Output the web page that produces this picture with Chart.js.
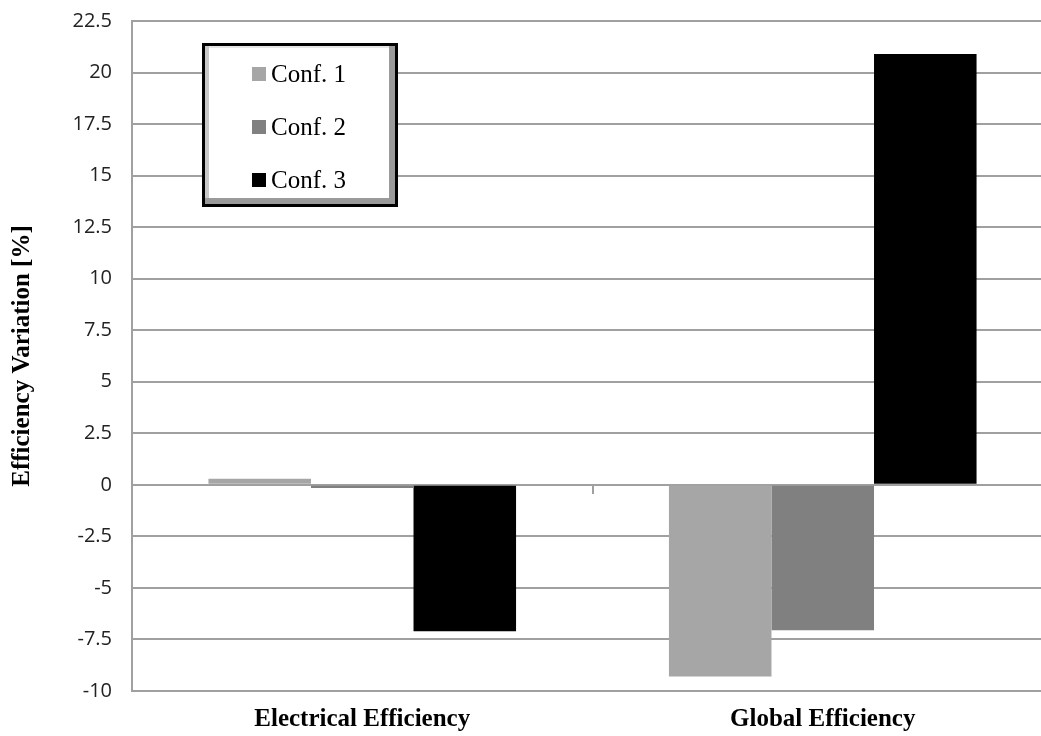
<!DOCTYPE html>
<html>
<head>
<meta charset="utf-8">
<script src="https://cdn.jsdelivr.net/npm/chart.js@4/dist/chart.umd.min.js"></script>
<style>
  html, body { margin: 0; padding: 0; background: #fff; overflow: hidden; }
  #wrap { width: 1060px; height: 748px; margin-top: -11px; }
</style>
</head>
<body>
<div id="wrap"><canvas id="chart" width="1060" height="748"></canvas></div>
<script>
// ---- data ----
const categories = ["Electrical Efficiency", "Global Efficiency"];
const seriesNames = ["Conf. 1", "Conf. 2", "Conf. 3"];
const conf1 = [0.3, -9.3];
const conf2 = [-0.15, -7.05];
const conf3 = [-7.1, 20.9];
const seriesColors = ["#a6a6a6", "#808080", "#000000"];

const yMin = -10, yMax = 22.5, yStep = 2.5;

const GRID = "#a0a0a0";
const SERIF = "'Liberation Serif', 'Times New Roman', serif";

// ---- legend drawn inside the plot (Excel style box) ----
const boxLegend = {
  id: "boxLegend",
  afterDraw(chart) {
    const { ctx, chartArea } = chart;
    const x = chartArea.left + 70, y = chartArea.top + 22;
    const w = 196, h = 164;
    ctx.save();
    ctx.fillStyle = "#fff";
    ctx.fillRect(x, y, w, h);
    // bevel
    ctx.fillStyle = "#c8c8c8";
    ctx.fillRect(x + 2, y + 2, 5, h - 4);
    ctx.fillStyle = "#9a9a9a";
    ctx.fillRect(x + w - 9, y + 2, 7, h - 4);
    ctx.fillRect(x + 2, y + h - 9, w - 4, 7);
    ctx.fillStyle = "#e6e6e6";
    ctx.fillRect(x + 7, y + 2, w - 16, 3);
    ctx.strokeStyle = "#000";
    ctx.lineWidth = 3;
    ctx.strokeRect(x + 1.5, y + 1.5, w - 3, h - 3);

    ctx.font = "25px " + SERIF;
    ctx.textBaseline = "middle";
    chart.data.datasets.forEach((ds, i) => {
      const ry = y + 31 + i * 53;
      ctx.fillStyle = ds.backgroundColor;
      ctx.fillRect(x + 50, ry - 7, 14, 14);
      ctx.fillStyle = "#000";
      ctx.fillText(ds.label, x + 69, ry + 1);
    });
    ctx.restore();
  }
};

const datasets = [conf1, conf2, conf3].map((vals, i) => ({
  label: seriesNames[i],
  data: vals,
  backgroundColor: seriesColors[i],
  borderWidth: 0,
  categoryPercentage: 0.668,
  barPercentage: 1.0,
  xAxisID: "x"
}));

new Chart(document.getElementById("chart"), {
  type: "bar",
  data: { labels: categories, datasets },
  options: {
    responsive: false,
    animation: false,
    layout: { padding: { left: 8, right: 7, top: 0, bottom: 2 } },
    plugins: { legend: { display: false }, tooltip: { enabled: false } },
    scales: {
      x: {
        position: "bottom",
        afterFit(scale) { scale.height = 44; },
        grid: { display: false, drawTicks: false },
        border: { color: GRID, width: 2 },
        ticks: { color: "#000", font: { family: SERIF, size: 25, weight: "bold" }, padding: 14, maxRotation: 0 }
      },
      x2: {
        type: "category",
        labels: categories,
        position: { y: 0 },
        afterFit(scale) { scale.height = 0; },
        grid: { offset: true, drawOnChartArea: false, drawTicks: true, tickLength: 9, color: GRID, lineWidth: 2 },
        border: { display: false },
        ticks: { display: false }
      },
      y: {
        min: yMin, max: yMax,
        afterFit(scale) { scale.width = 124; },
        ticks: { stepSize: yStep, color: "#222", font: { family: "'Open Sans', sans-serif", size: 20 }, padding: 20 },
        grid: { color: GRID, lineWidth: 2, drawTicks: false },
        border: { color: GRID, width: 2 },
        title: { display: true, text: "Efficiency Variation [%]", color: "#000", font: { family: SERIF, size: 25, weight: "bold" }, padding: 0 }
      }
    }
  },
  plugins: [boxLegend]
});
</script>
</body>
</html>
